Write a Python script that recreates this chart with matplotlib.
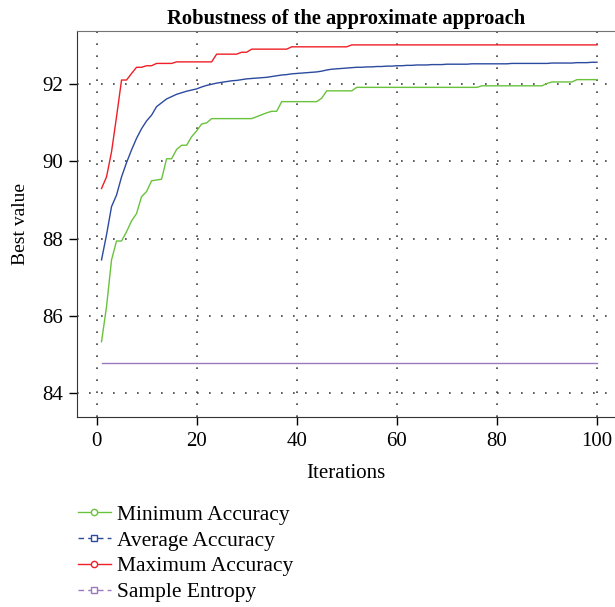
import matplotlib
matplotlib.use("Agg")
import matplotlib.pyplot as plt
from matplotlib.lines import Line2D

plt.rcParams['font.family'] = ['Liberation Serif', 'DejaVu Serif']

# values (iterations 1..100)
iterations = list(range(1, 101))

min_acc = ([85.33, 86.24, 87.45, 87.94, 87.94, 88.18, 88.46, 88.65, 89.09, 89.22,
            89.50, 89.52, 89.54, 90.07, 90.07, 90.31, 90.42, 90.42, 90.64, 90.79,
            90.97, 91.00]
           + [91.11] * 9
           + [91.16, 91.21, 91.26, 91.30, 91.30]
           + [91.55] * 8
           + [91.64]
           + [91.83] * 6
           + [91.92] * 25
           + [91.96] * 13
           + [92.02]
           + [92.06] * 5
           + [92.12] * 5)

avg_acc = [87.45, 88.10, 88.83, 89.13, 89.60, 89.97, 90.30, 90.60, 90.85, 91.05,
           91.20, 91.42, 91.52, 91.62, 91.68, 91.74, 91.78, 91.82, 91.85, 91.88,
           91.93, 91.97, 92.00, 92.03, 92.05, 92.07, 92.09, 92.10, 92.12, 92.14,
           92.15, 92.16, 92.17, 92.18, 92.20, 92.22, 92.24, 92.25, 92.27, 92.28,
           92.29, 92.30, 92.31, 92.32, 92.34, 92.37, 92.39, 92.40, 92.41, 92.42,
           92.43, 92.44, 92.44, 92.45, 92.45, 92.46, 92.46, 92.47, 92.47, 92.48,
           92.48, 92.49, 92.49, 92.50, 92.50, 92.50, 92.51, 92.51, 92.51, 92.52,
           92.52, 92.52, 92.52, 92.52, 92.53, 92.53, 92.53, 92.53, 92.53, 92.53,
           92.53, 92.53, 92.54, 92.54, 92.54, 92.54, 92.54, 92.54, 92.54, 92.54,
           92.55, 92.55, 92.55, 92.55, 92.55, 92.56, 92.56, 92.56, 92.57, 92.57]

max_acc = ([89.30, 89.60, 90.25, 91.16, 92.11, 92.11, 92.28, 92.44, 92.44, 92.48,
            92.48]
           + [92.54] * 4
           + [92.58] * 8
           + [92.78] * 5
           + [92.83] * 2
           + [92.91] * 8
           + [92.97] * 12
           + [93.02] * 50)

entropy = [84.77] * 100

series = [
    ("Minimum Accuracy", min_acc, "#69c23c", "o", "-"),
    ("Average Accuracy", avg_acc, "#2c4a9e", "s", (0, (4, 3))),
    ("Maximum Accuracy", max_acc, "#ee1f26", "o", "-"),
    ("Sample Entropy", entropy, "#9b78bd", "s", (0, (4, 3))),
]

fig = plt.figure(figsize=(6.15, 6.07), dpi=100)
ax = fig.add_axes([76.5 / 615, (607 - 417) / 607, (615 - 76.5) / 615, (417 - 31) / 607])

for name, vals, col, mk, ls in series:
    ax.plot(iterations, vals, color=col, lw=1.0)

ax.set_xlim(-4, 103.6)
ax.set_ylim(83.38, 93.38)
ax.set_xticks([0, 20, 40, 60, 80, 100])
ax.set_yticks([84, 86, 88, 90, 92])
ax.grid(True, color='0.25', lw=1.2, linestyle=(0, (1, 6.2)))
ax.tick_params(direction='out', length=6, width=1, labelsize=15)
ax.tick_params(axis='x', pad=5)
ax.spines['right'].set_visible(False)
for s in ['left', 'bottom', 'top']:
    ax.spines[s].set_color('0.2')
ax.spines['top'].set_color('0.45')

ax.set_xlabel("Iterations", fontsize=15, labelpad=9)
ax.set_ylabel("Best value", fontsize=14, labelpad=10)
ax.set_title("Robustness of the approximate approach", fontsize=14.8,
             fontweight='bold', pad=5)

handles = [Line2D([], [], color=c, lw=1.0, ls=ls, marker=m, markersize=4.5,
                  markerfacecolor='white', markeredgecolor=c, markeredgewidth=1.0)
           for _, _, c, m, ls in series]
fig.legend(handles, [s[0] for s in series], loc='upper left',
           bbox_to_anchor=(69 / 615, 1 - 496 / 607), frameon=False,
           fontsize=15.5, handlelength=1.55, handletextpad=0.3,
           labelspacing=0.27, numpoints=1, borderaxespad=0)

fig.savefig("out.png", dpi=100)
